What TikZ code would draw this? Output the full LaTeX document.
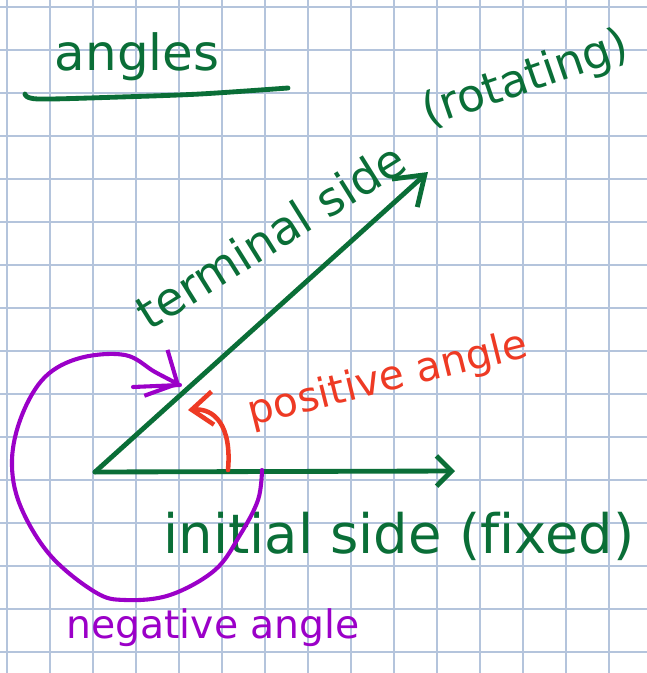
\documentclass[tikz,border=0pt]{standalone}
\usepackage{fontspec}
\setmainfont{DejaVu Sans}[Ligatures=NoCommon]
\usetikzlibrary{arrows.meta}

\definecolor{inkgreen}{RGB}{10,110,55}
\definecolor{inkred}{RGB}{238,58,36}
\definecolor{inkpurple}{RGB}{155,0,200}
\definecolor{gridblue}{RGB}{180,196,220}

\begin{document}
\begin{tikzpicture}[
    x=0.0232558cm, y=-0.0232558cm,
    gridline/.style={draw=gridblue, line width=1.1pt},
    greenpen/.style={draw=inkgreen, line width=3.2pt, line cap=round, line join=round},
    redpen/.style={draw=inkred, line width=3pt, line cap=round, line join=round},
    purplepen/.style={draw=inkpurple, line width=2.7pt, line cap=round, line join=round},
    handfont/.style={font=\fontsize{#1pt}{#1pt}\selectfont},
    every node/.style={inner sep=0pt}
  ]

    % Grid paper
    \fill[white] (0,0) rectangle (647,673);
    \useasboundingbox (0,0) rectangle (647,673);
    \foreach \i in {0,...,14} \draw[gridline] (7+43*\i,0) -- (7+43*\i,673);
    \foreach \j in {0,...,15} \draw[gridline] (0,7+43*\j) -- (647,7+43*\j);

    % Title
    \node[handfont=33, text=inkgreen, anchor=base] (title) at (137,70) {angles};
    \draw[greenpen] plot[smooth] coordinates {(25,94) (38,99) (120,97) (200,94) (288,88)};

    % Sides of the angle
    \coordinate (vertex) at (95,472);
    \coordinate (initend) at (455,471);
    \coordinate (termend) at (428,172);
    \draw[greenpen, -{Straight Barb[length=10pt,width=20pt]}] (vertex) -- (initend);
    \draw[greenpen, -{Straight Barb[length=18pt,width=25pt]}] (vertex) -- (termend);

    % Side labels
    \node[handfont=31, text=inkgreen, rotate=32, anchor=base] (termlabel) at (280,250) {terminal side};
    \node[handfont=30, text=inkgreen, rotate=19] (rotlabel) at (526,80) {(rotating)};
    \node[handfont=36, text=inkgreen, anchor=base] (initlabel) at (399,553) {initial side (fixed)};

    % Positive angle
    \coordinate (posstart) at (228,470);
    \coordinate (postip) at (188,410);
    \draw[redpen, -{Straight Barb[length=14pt,width=22pt]}] (posstart) .. controls (232,425) and (214,408) .. (postip);
    \node[handfont=27, text=inkred, rotate=14] (poslabel) at (388,380) {positive angle};

    % Negative angle
    \coordinate (negstart) at (262,470);
    \coordinate (negtip) at (180,385);
    \draw[purplepen, -{Straight Barb[length=16pt,width=34pt]}] plot[smooth, tension=0.6] coordinates {(negstart) (258,500) (240,535) (215,570) (170,595) (125,600) (95,592) (50,555) (20,505) (12,460) (22,415) (45,377) (80,358) (125,355) (155,372) (negtip)};
    \draw[purplepen] (133,387) -- (negtip);
    \node[handfont=26, text=inkpurple, anchor=base] (neglabel) at (213,638) {negative angle};

  \end{tikzpicture}
\end{document}
